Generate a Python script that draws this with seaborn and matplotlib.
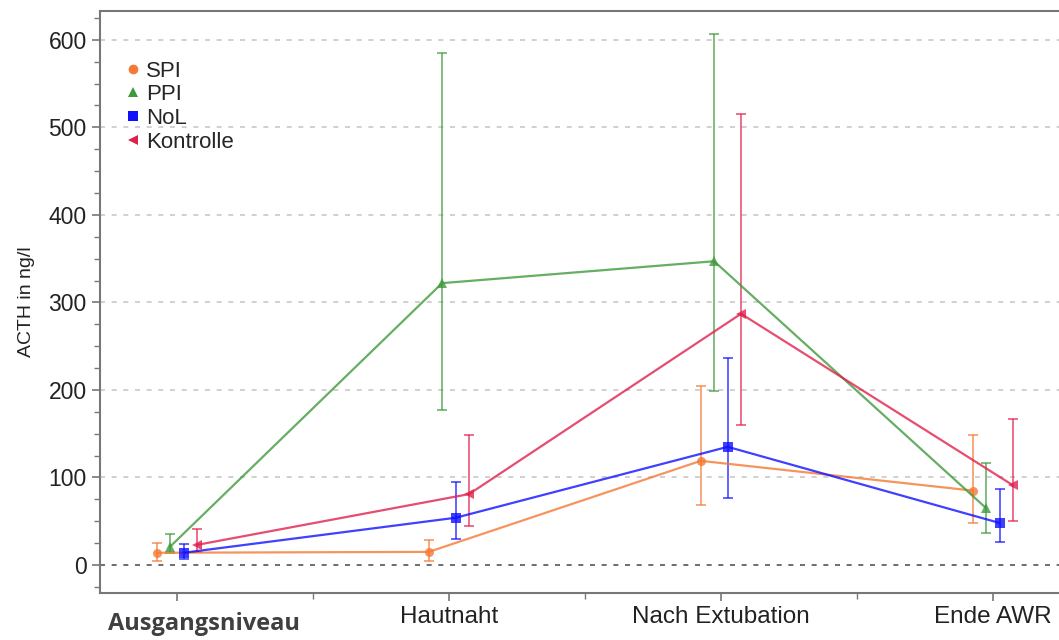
import numpy as np
import pandas as pd
import matplotlib
matplotlib.use("Agg")
import matplotlib.pyplot as plt
import seaborn as sns
from matplotlib.ticker import MultipleLocator

# ---------------------------------------------------------------------------
# Data
# ---------------------------------------------------------------------------
timepoints = ["Ausgangsniveau", "Hautnaht", "Nach Extubation", "Ende AWR"]
groups = ["SPI", "PPI", "NoL", "Kontrolle"]

spi_mean = [14, 15, 119, 85]
spi_low = [5, 5, 69, 48]
spi_high = [25, 28, 205, 148]

ppi_mean = [21, 322, 347, 65]
ppi_low = [14, 177, 199, 37]
ppi_high = [35, 585, 607, 117]

nol_mean = [14, 54, 135, 48]
nol_low = [7, 30, 77, 26]
nol_high = [24, 95, 237, 87]

ktr_mean = [23, 81, 287, 91]
ktr_low = [15, 45, 160, 50]
ktr_high = [41, 149, 515, 167]

colors = {"SPI": "#f47a35", "PPI": "#3f9a3c", "NoL": "#1010ff", "Kontrolle": "#e0204c"}
markers = {"SPI": "o", "PPI": "^", "NoL": "s", "Kontrolle": "<"}
offsets = {"SPI": -0.074, "PPI": -0.025, "NoL": 0.025, "Kontrolle": 0.074}

# ---------------------------------------------------------------------------
# Long-form table
# ---------------------------------------------------------------------------
series = {
    "SPI": (spi_mean, spi_low, spi_high),
    "PPI": (ppi_mean, ppi_low, ppi_high),
    "NoL": (nol_mean, nol_low, nol_high),
    "Kontrolle": (ktr_mean, ktr_low, ktr_high),
}
rows = []
for g in groups:
    m, lo, hi = series[g]
    for i, t in enumerate(timepoints):
        rows.append({"group": g, "time": t, "pos": i + offsets[g],
                     "mean": m[i], "low": lo[i], "high": hi[i]})
df = pd.DataFrame(rows)

# ---------------------------------------------------------------------------
# Plot
# ---------------------------------------------------------------------------
sns.set_style("white")
plt.rcParams["font.family"] = ["Liberation Sans", "DejaVu Sans"]

fig = plt.figure(figsize=(10.59, 6.4), dpi=100)
ax = fig.add_axes([0.0944, 0.0734, 0.9056, 0.9096])

# grid lines
for v in range(100, 700, 100):
    ax.axhline(v, color="#c8c8c8", lw=1.2, ls=(0, (3, 4)), zorder=0)
ax.axhline(0, color="#555555", lw=1.2, ls=(0, (3, 4)), zorder=0)

for g in groups:
    sub = df[df["group"] == g]
    ax.errorbar(sub["pos"], sub["mean"],
                yerr=[sub["mean"] - sub["low"], sub["high"] - sub["mean"]],
                fmt="none", ecolor=colors[g], elinewidth=1.3, capsize=3.5,
                capthick=1.3, alpha=0.7, zorder=2)

sns.lineplot(data=df, x="pos", y="mean", hue="group", style="group",
             hue_order=groups, style_order=groups, palette=colors,
             markers=markers, dashes=False, markersize=6.5, markeredgewidth=0,
             linewidth=1.6, alpha=0.8, sort=True, ax=ax, zorder=3)

ax.set_xlim(-0.283, 3.243)
ax.set_ylim(-32, 633)
ax.yaxis.set_major_locator(MultipleLocator(100))
ax.yaxis.set_minor_locator(MultipleLocator(25))
ax.set_xticks(range(len(timepoints)))
ax.set_xticks([0.5, 1.5, 2.5], minor=True)
ax.set_xticklabels([""] + timepoints[1:], fontsize=17.5, color="#222222")
ax.tick_params(axis="y", labelsize=16.5, labelcolor="#222222")
ax.tick_params(which="both", direction="out", color="#777777", bottom=True, left=True)
ax.tick_params(which="major", length=6, width=1.2)
ax.tick_params(which="minor", length=4, width=1.0)

ax.set_xlabel("")
ax.set_ylabel("ACTH in ng/l", fontsize=14, color="#222222", labelpad=10)

# first category label placed slightly lower, in a bolder face
ax.text(0.008, -0.033, timepoints[0], transform=ax.transAxes,
        fontsize=17, fontweight="bold", color="#404040",
        family=["Open Sans", "DejaVu Sans"], ha="left", va="top")

for side in ["left", "bottom", "top"]:
    ax.spines[side].set_color("#777777")
    ax.spines[side].set_linewidth(1.5)
ax.spines["right"].set_visible(False)

leg = ax.legend(loc="upper left", bbox_to_anchor=(0.017, 0.93), frameon=False,
                fontsize=16, handlelength=0.7, handletextpad=0.25,
                labelspacing=0.12, borderaxespad=0)
for h in leg.legend_handles:
    h.set_linestyle("none")
    h.set_alpha(1)
    h.set_markersize(7)

fig.savefig("out.png", dpi=100)
